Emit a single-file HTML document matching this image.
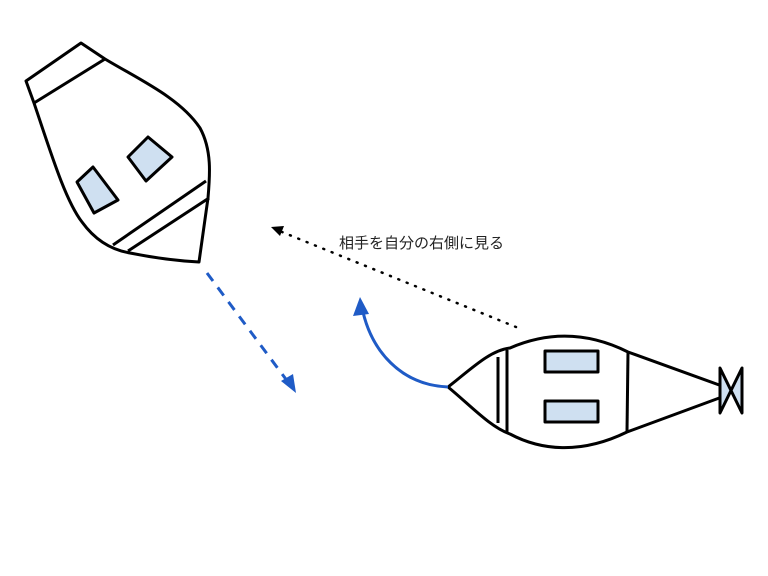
<!DOCTYPE html>
<html><head><meta charset="utf-8"><style>
html,body{margin:0;padding:0;background:#fff;}
svg{display:block;}
</style></head><body>
<svg width="768" height="576" viewBox="0 0 768 576" xmlns="http://www.w3.org/2000/svg">
<defs>
<marker id="bh" markerWidth="10" markerHeight="10" refX="5" refY="5" orient="auto" markerUnits="userSpaceOnUse">
<path d="M0,0 L12,5 L0,10 Z" fill="#1f5bc6"/></marker>
</defs>
<g fill="none" stroke="#000" stroke-width="3" stroke-linejoin="round">
<!-- left boat -->
<path d="M81,43 L26,81 L34,103 C50,150 65,200 82,222 C95,240 112,250 130,253 C155,258 180,261 199,262 L208,198 C210,175 212,150 200,128 C180,98 140,80 105,59 Z" fill="#fff"/>
<line x1="105" y1="59" x2="34" y2="103"/>
<line x1="206" y1="181" x2="113" y2="245"/>
<line x1="209" y1="198" x2="128" y2="251"/>
<path d="M77,182 L93,167 L118,200 L94,213 Z" fill="#cfe0f1"/>
<path d="M128,157 L148,137 L172,157 L146,181 Z" fill="#cfe0f1"/>
<!-- right boat -->
<path d="M448,387 C470,370 490,350 510,348 C540,335 580,328 628,352 L722,386 L722,397 L627,432 C580,455 540,450 510,434 C490,427 470,405 448,387 Z" fill="#fff"/>
<line x1="498" y1="357" x2="498" y2="423"/>
<line x1="507" y1="350" x2="507" y2="433"/>
<line x1="628" y1="352" x2="627" y2="432"/>
<rect x="545" y="351" width="53" height="21" fill="#cfe0f1"/>
<rect x="545" y="401" width="53" height="21" fill="#cfe0f1"/>
<path d="M720,368 L742,413 L742,368 L720,413 Z" fill="#cfe0f1"/>
</g>
<!-- blue dashed arrow -->
<line x1="207" y1="273" x2="288" y2="382" stroke="#1f5bc6" stroke-width="3" stroke-dasharray="10,8"/>
<path d="M296,393 L281,381 L293,374 Z" fill="#1f5bc6"/>
<!-- blue curved arrow -->
<path d="M448,387 C400,385 372,350 363,312" fill="none" stroke="#1f5bc6" stroke-width="3"/>
<path d="M360,297 L353,316 L369,314 Z" fill="#1f5bc6"/>
<!-- dotted arrow -->
<line x1="516" y1="327" x2="282" y2="232" stroke="#000" stroke-width="2.5" stroke-dasharray="1,8" stroke-linecap="round"/>
<path d="M271,227 L284,226 L280,236 Z" fill="#000"/>
<text x="339" y="248" font-family="'Liberation Sans','Noto Sans CJK JP',sans-serif" font-size="15" fill="#222">相手を自分の右側に見る</text>
</svg>
</body></html>
